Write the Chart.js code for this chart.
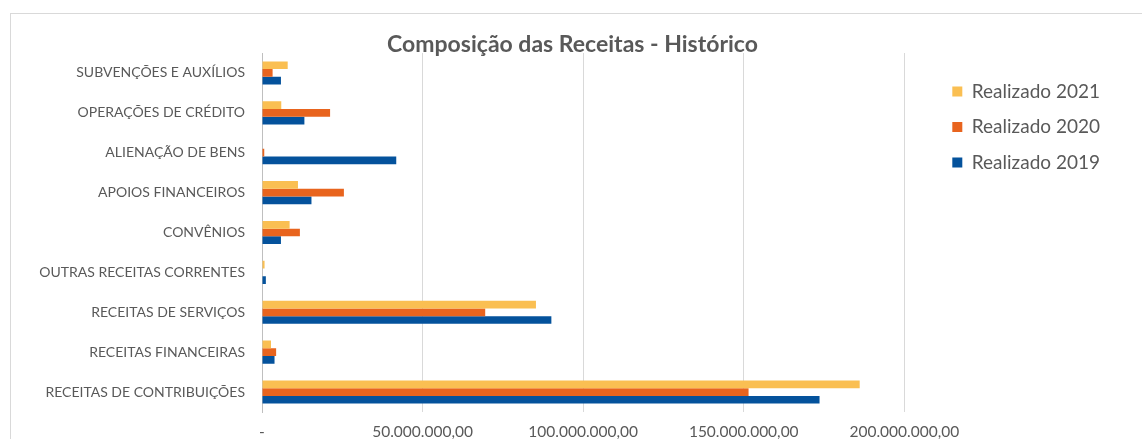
<!DOCTYPE html>
<html lang="pt-BR">
<head>
<meta charset="utf-8">
<title>Composição das Receitas - Histórico</title>
<script src="https://cdn.jsdelivr.net/npm/chart.js@4/dist/chart.umd.min.js"></script>
<style>
  html, body {
    margin: 0;
    padding: 0;
    background: #ffffff;
    overflow: hidden;
    width: 1142px;
    height: 439px;
  }
  #box {
    position: absolute;
    left: 10px;
    top: 13px;
    width: 1140px;
    height: 440px;
    border: 1px solid #d9d9d9;
    background: #ffffff;
  }
</style>
</head>
<body>
<div id="box">
  <canvas id="receitasChart" width="1131" height="440"></canvas>
</div>
<script>
// categorias (de cima para baixo)
const categorias = [
  "SUBVENÇÕES E AUXÍLIOS",
  "OPERAÇÕES DE CRÉDITO",
  "ALIENAÇÃO DE BENS",
  "APOIOS FINANCEIROS",
  "CONVÊNIOS",
  "OUTRAS RECEITAS CORRENTES",
  "RECEITAS DE SERVIÇOS",
  "RECEITAS FINANCEIRAS",
  "RECEITAS DE CONTRIBUIÇÕES",
];

// valores realizados por ano (R$)
const realizado2021 = [8000000, 6000000, 0, 11200000, 8600000, 800000, 85300000, 2800000, 186100000];
const realizado2020 = [3300000, 21200000, 700000, 25500000, 11800000, 0, 69500000, 4400000, 151500000];
const realizado2019 = [5900000, 13200000, 41800000, 15400000, 5900000, 1200000, 90100000, 3900000, 173600000];

const seriesNomes = ["Realizado 2021", "Realizado 2020", "Realizado 2019"];
const seriesCores = ["#FABF52", "#E8641E", "#04529C"];

// marcas do eixo horizontal
const marcasEixo = [0, 50000000, 100000000, 150000000, 200000000];
const maxEixo = 209800000;

// formata 50000000 como "50.000.000,00" e zero como "-"
function formatarValor(v) {
  if (v === 0) return "-";
  const inteiro = Math.round(v).toString().replace(/\B(?=(\d{3})+(?!\d))/g, ".");
  return inteiro + ",00";
}

const cinza = "#595959";
const fonte = "Lato, 'Open Sans', sans-serif";

const ctx = document.getElementById("receitasChart");

new Chart(ctx, {
  type: "bar",
  data: {
    labels: categorias,
    datasets: [
      { label: seriesNomes[0], data: realizado2021, backgroundColor: seriesCores[0] },
      { label: seriesNomes[1], data: realizado2020, backgroundColor: seriesCores[1] },
      { label: seriesNomes[2], data: realizado2019, backgroundColor: seriesCores[2] },
    ],
  },
  options: {
    indexAxis: "y",
    responsive: false,
    animation: false,
    devicePixelRatio: 1,
    datasets: {
      bar: {
        categoryPercentage: 0.58,
        barPercentage: 1.0,
      },
    },
    layout: {
      padding: { left: 24, right: 32, top: 0, bottom: 0 },
    },
    plugins: {
      title: {
        display: true,
        text: "Composição das Receitas - Histórico",
        color: cinza,
        font: { family: fonte, size: 23, weight: "bold", lineHeight: 1 },
        padding: { top: 19, bottom: -3 },
      },
      legend: {
        position: "right",
        align: "start",
        fullSize: false,
        // titulo vazio, so para descer um pouco os itens
        title: {
          display: true,
          text: "",
          font: { size: 8, lineHeight: 1 },
          padding: { top: 4.5, bottom: 0 },
        },
        labels: {
          boxWidth: 10,
          boxHeight: 10,
          padding: 16.5,
          color: cinza,
          font: { family: fonte, size: 19 },
        },
      },
      tooltip: { enabled: false },
    },
    scales: {
      x: {
        min: 0,
        max: maxEixo,
        grid: {
          color: "#d9d9d9",
          drawTicks: false,
        },
        border: { display: false },
        ticks: {
          padding: 11,
          maxRotation: 0,
          color: cinza,
          font: { family: fonte, size: 15.5 },
          callback: (v) => formatarValor(v),
        },
        afterBuildTicks: (scale) => {
          scale.ticks = marcasEixo.map((v) => ({ value: v }));
        },
        afterFit: (scale) => {
          scale.height = 42;
        },
      },
      y: {
        grid: { display: false, drawTicks: false },
        border: { display: true, color: "#bfbfbf" },
        ticks: {
          padding: 17,
          color: cinza,
          font: { family: fonte, size: 14 },
        },
        afterFit: (scale) => {
          scale.width = 227;
        },
      },
    },
  },
});
</script>
</body>
</html>
